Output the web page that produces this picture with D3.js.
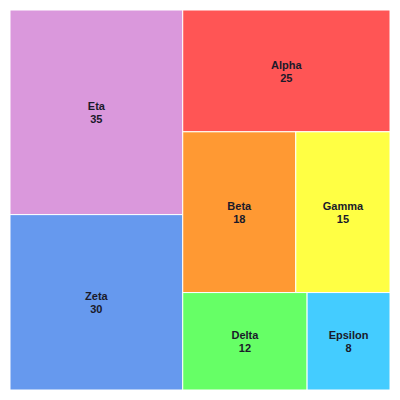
<!DOCTYPE html>
<html><head><meta charset="utf-8">
<script src="https://cdn.jsdelivr.net/npm/d3@7"></script>
<style>body{margin:0;background:#fff}</style>
</head><body>
<svg id="c" width="400" height="400"></svg>
<script>
const names = ["Eta","Zeta","Alpha","Beta","Gamma","Delta","Epsilon"];
const values = [35,30,25,18,15,12,8];
const colors = ["#da98dc","#6699ee","#ff5555","#ff9933","#ffff44","#66ff66","#44ccff"];

const svg = d3.select("#c");
const data = {name:"root", children: names.map((n,i)=>({name:n, value:values[i], color:colors[i]}))};
const root = d3.hierarchy(data).sum(d=>d.value||0).sort((a,b)=>b.value-a.value);
d3.treemap().tile(d3.treemapSquarify.ratio(1)).size([380,380])(root);

const g = svg.append("g").attr("transform","translate(10,10)");
const cell = g.selectAll("g").data(root.leaves()).join("g");
cell.append("rect")
  .attr("x",d=>d.x0).attr("y",d=>d.y0)
  .attr("width",d=>d.x1-d.x0).attr("height",d=>d.y1-d.y0)
  .attr("fill",d=>d.data.color).attr("stroke","#fff").attr("stroke-width",1);
const t = cell.append("text")
  .attr("text-anchor","middle")
  .attr("font-family","Liberation Sans, Arial, sans-serif")
  .attr("font-size",11).attr("font-weight","bold").attr("fill","#1a1a2a");
t.append("tspan").attr("x",d=>(d.x0+d.x1)/2).attr("y",d=>(d.y0+d.y1)/2-2).text(d=>d.data.name);
t.append("tspan").attr("x",d=>(d.x0+d.x1)/2).attr("y",d=>(d.y0+d.y1)/2+11).text(d=>d.value);
</script>
</body></html>
